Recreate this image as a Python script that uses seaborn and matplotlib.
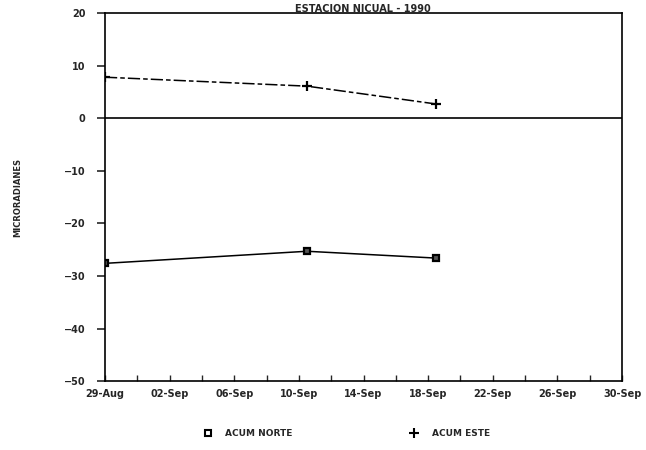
import pandas as pd
import matplotlib
matplotlib.use("Agg")
import matplotlib.pyplot as plt
import matplotlib.dates as mdates
from matplotlib.lines import Line2D
import seaborn as sns

# values
fechas = ["1990-08-29 00:00", "1990-09-10 12:00", "1990-09-18 12:00"]
acum_norte = [-27.6, -25.3, -26.6]
acum_este = [7.8, 6.1, 2.7]
yticks = [20, 10, 0, -10, -20, -30, -40, -50]
titulo = "ESTACION NICUAL - 1990"

df = pd.DataFrame({"fecha": pd.to_datetime(fechas),
                   "ACUM NORTE": acum_norte,
                   "ACUM ESTE": acum_este})

sns.set_style("ticks")
plt.rcParams["font.family"] = ["DejaVu Sans"]
plt.rcParams["font.weight"] = "bold"

fig = plt.figure(figsize=(6.46, 4.5), dpi=100)
ax = fig.add_axes([0.1625, 0.153, 0.8005, 0.818])

sns.lineplot(data=df, x="fecha", y="ACUM NORTE", ax=ax, color="black",
             lw=1.1, marker="s", markersize=5, markerfacecolor="#555555",
             markeredgecolor="black", markeredgewidth=1.6)
sns.lineplot(data=df, x="fecha", y="ACUM ESTE", ax=ax, color="black",
             lw=1.1, marker="+", markersize=7, markeredgewidth=1.6,
             markeredgecolor="black", linestyle=(0, (8, 2, 3, 2)))

ax.axhline(0, color="black", lw=1.2)

ax.set_xlim(pd.Timestamp("1990-08-29"), pd.Timestamp("1990-09-30"))
ax.set_ylim(-50, 20)
ax.set_yticks(yticks)
ax.set_xticks(pd.date_range("1990-08-29", "1990-09-30", freq="4D").append(
    pd.DatetimeIndex(["1990-09-30"])).unique())
ax.xaxis.set_major_formatter(mdates.DateFormatter("%d-%b"))
ax.set_xticks(pd.date_range("1990-08-29", "1990-09-30", freq="2D"), minor=True)

ax.tick_params(axis="y", left=True, direction="out", length=6, width=1.2,
               labelsize=7, pad=8)
ax.tick_params(axis="x", which="both", bottom=True, direction="in", length=4,
               width=1, labelsize=7, pad=6)
for s in ax.spines.values():
    s.set_visible(True)
    s.set_color("black")
    s.set_linewidth(1.2)

ax.set_xlabel("")
ax.set_ylabel("MICRORADIANES", fontsize=6, fontweight="bold", labelpad=30)

fig.text(0.562, 0.992, titulo, ha="center", va="top", fontsize=7, fontweight="bold")

handles = [Line2D([], [], color="black", marker="s", linestyle="none",
                  markerfacecolor="white", markeredgewidth=1.5, markersize=5),
           Line2D([], [], color="black", marker="+", linestyle="none",
                  markeredgewidth=1.5, markersize=7)]
fig.legend(handles, ["ACUM NORTE", "ACUM ESTE"], loc="center",
           bbox_to_anchor=(0.533, 0.037), ncol=2, frameon=False,
           fontsize=6.5, handletextpad=0.9, columnspacing=12.5)

fig.savefig("out.png", dpi=100)
